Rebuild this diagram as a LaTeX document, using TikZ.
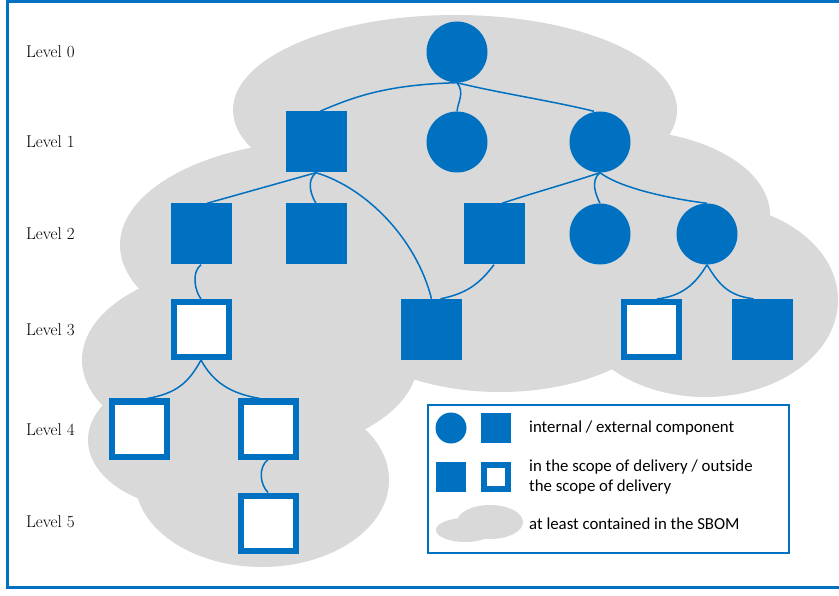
\documentclass[tikz,border=0pt]{standalone}
\usepackage{fontspec}
\newfontfamily\legfont{Carlito}
\definecolor{bl}{HTML}{0070C0}
\definecolor{cl}{HTML}{D9D9D9}
\begin{document}
\begin{tikzpicture}[x=1pt,y=-1pt,
  circ/.style={circle,fill=bl,minimum size=61pt,inner sep=0pt},
  fsq/.style={rectangle,fill=bl,minimum size=61pt,inner sep=0pt},
  hsq/.style={rectangle,draw=bl,fill=white,line width=6pt,minimum size=55pt,inner sep=0pt},
  lcirc/.style={circle,fill=bl,minimum size=31pt,inner sep=0pt},
  lfsq/.style={rectangle,fill=bl,minimum size=30pt,inner sep=0pt},
  lhsq/.style={rectangle,draw=bl,fill=white,line width=6pt,minimum size=24pt,inner sep=0pt},
  link/.style={draw=bl,line width=1.5pt},
  lvl/.style={anchor=west,inner sep=0pt,font=\fontsize{17}{20}\selectfont},
  leg/.style={anchor=west,inner sep=0pt,font=\legfont\fontsize{16.8}{20}\selectfont,align=left},
]
\useasboundingbox (0,0) rectangle (839,596);
\fill[white] (0,0) rectangle (839,596);
% frame
\draw[bl,line width=3pt] (839,2) -- (7.5,2) -- (7.5,587.5) -- (839,587.5);
% cloud
\begin{scope}[cl]
\fill (455,110) ellipse [x radius=222pt, y radius=95pt];
\fill (620,215) ellipse [x radius=150pt, y radius=85pt];
\fill (705,300) ellipse [x radius=133pt, y radius=97pt];
\fill (330,245) ellipse [x radius=210pt, y radius=105pt];
\fill (250,360) ellipse [x radius=168pt, y radius=95pt];
\fill (500,300) ellipse [x radius=170pt, y radius=92pt];
\fill (200,440) ellipse [x radius=112pt, y radius=70pt];
\fill (262,480) ellipse [x radius=127pt, y radius=87pt];
\end{scope}
% levels
\node[lvl] (l0) at (26,52) {Level 0};
\node[lvl] (l1) at (26,142) {Level 1};
\node[lvl] (l2) at (26,234) {Level 2};
\node[lvl] (l3) at (26,330) {Level 3};
\node[lvl] (l4) at (26,430) {Level 4};
\node[lvl] (l5) at (26,522) {Level 5};
% nodes
\node[circ] (n0) at (457,52) {};
\node[fsq] (n1a) at (316,142) {};
\node[circ] (n1b) at (457,142) {};
\node[circ] (n1c) at (600,142) {};
\node[fsq] (n2a) at (201,234) {};
\node[fsq] (n2b) at (316,234) {};
\node[fsq] (n2c) at (494,234) {};
\node[circ] (n2d) at (600,234) {};
\node[circ] (n2e) at (707,234) {};
\node[hsq] (n3a) at (201,329.5) {};
\node[fsq] (n3b) at (431.5,329.5) {};
\node[hsq] (n3c) at (651,329.5) {};
\node[fsq] (n3d) at (762.5,329.5) {};
\node[hsq] (n4a) at (139,429) {};
\node[hsq] (n4b) at (268,429) {};
\node[hsq] (n5) at (268,523) {};
% links
\path[link] (n0.south) .. controls +(-70,2) and +(35,-15) .. ([xshift=4pt]n1a.north);
\path[link] (n0.south) .. controls +(8,10) and +(1,-10) .. (n1b.north);
\path[link] (n0.south) .. controls +(40,10) and +(-40,-10) .. ([xshift=-6pt]n1c.north);
\path[link] (n1a.south) -- ([xshift=6pt]n2a.north);
\path[link] (n1a.south) .. controls +(-10,8) and +(-5,-8) .. (n2b.north);
\path[link] (n1a.south) .. controls +(50,15) and +(-15,-60) .. (n3b.north);
\path[link] (n1c.south) .. controls +(-30,10) and +(30,-10) .. ([xshift=8pt]n2c.north);
\path[link] (n1c.south) .. controls +(-10,8) and +(-4,-8) .. (n2d.north);
\path[link] (n1c.south) .. controls +(20,15) and +(-40,-5) .. (n2e.north);
\path[link] (n2a.south) .. controls +(-10,8) and +(-6,-8) .. (n3a.north);
\path[link] (n2c.south) .. controls +(-15,20) and +(25,-5) .. ([xshift=9pt]n3b.north);
\path[link] (n2e.south) .. controls +(-12,20) and +(25,-3) .. ([xshift=6pt]n3c.north);
\path[link] (n2e.south) .. controls +(12,20) and +(-25,-3) .. ([xshift=-9pt]n3d.north);
\path[link] (n3a.south) .. controls +(-12,22) and +(30,-5) .. ([xshift=8pt]n4a.north);
\path[link] (n3a.south) .. controls +(12,22) and +(-30,-5) .. ([xshift=-8pt]n4b.north);
\path[link] (n4b.south) .. controls +(-10,8) and +(-8,-8) .. (n5.north);
% legend
\draw[bl,fill=white,line width=2.5pt] (428,405) rectangle (789,553);
\node[lcirc] (k1) at (451,428) {};
\node[lfsq] (k2) at (495.5,427.5) {};
\node[lfsq] (k3) at (451,476.5) {};
\node[lhsq] (k4) at (495.5,476.5) {};
\fill[cl] (465,530) ellipse [x radius=29pt, y radius=12pt];
\fill[cl] (490,522) ellipse [x radius=33pt, y radius=17pt];
\node[leg] (t1) at (529,428) {internal / external component};
\node[leg] (t2) at (529,477) {in the scope of delivery / outside\\the scope of delivery};
\node[leg] (t3) at (529,524) {at least contained in the SBOM};
\end{tikzpicture}
\end{document}
